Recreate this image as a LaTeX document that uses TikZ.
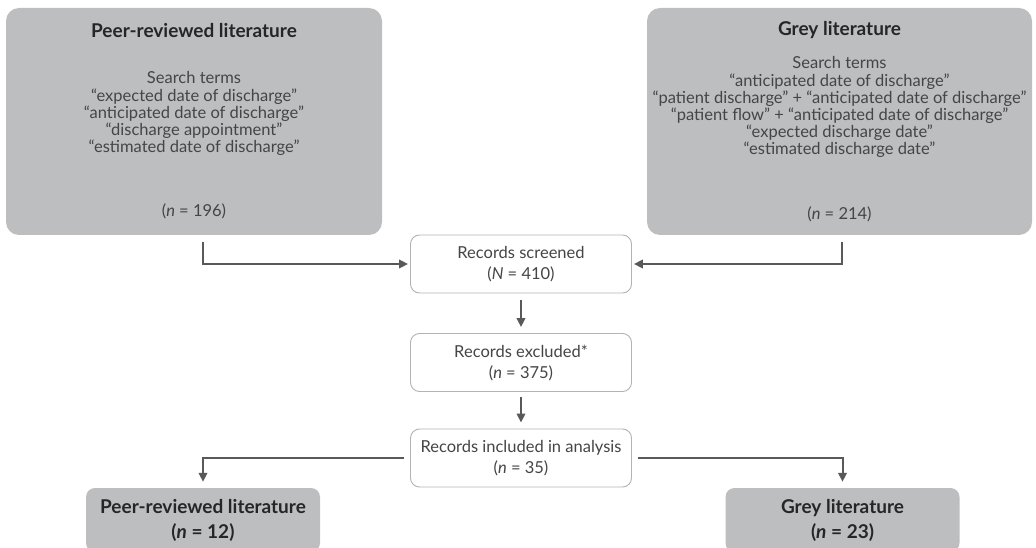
\documentclass[tikz,border=0pt]{standalone}
\usepackage{fontspec}
\setmainfont{Lato}
\usetikzlibrary{arrows.meta,positioning}
\definecolor{boxgrey}{HTML}{BDBEC0}
\definecolor{linegrey}{HTML}{58595B}
\definecolor{textgrey}{HTML}{454545}
\definecolor{edgegrey}{HTML}{B2B3B5}
\newcommand{\headline}[1]{{\bfseries\color{black!85}\fontsize{19}{17}\selectfont #1}}
\tikzset{
  source/.style={fill=boxgrey, rounded corners=13pt, align=center, text=textgrey,
    minimum height=227pt, inner sep=0pt, font=\fontsize{16.5}{17.2}\selectfont},
  stagebox/.style={draw=edgegrey, line width=0.9pt, fill=white, rounded corners=9pt,
    align=center, text=textgrey, minimum width=221pt, minimum height=58pt,
    inner sep=0pt, font=\fontsize{16.5}{21}\selectfont},
  result/.style={fill=boxgrey, rounded corners=9pt, align=center, text=black!85,
    minimum width=234pt, minimum height=64pt, inner sep=0pt,
    font=\bfseries\fontsize{19}{25}\selectfont},
  flow/.style={-{Triangle[length=9pt,width=8.5pt]}, line width=2pt, draw=linegrey},
}
\begin{document}
\begin{tikzpicture}[x=1pt, y=-1pt]
  \useasboundingbox (0,0) rectangle (1036,548);
  % Sources
  \node[source, minimum width=376pt] (peer) at (194,121.5)
    {\headline{Peer-reviewed literature}\\[29pt]
     Search terms\\
     ``expected date of discharge''\\
     ``anticipated date of discharge''\\
     ``discharge appointment''\\
     ``estimated date of discharge''\\[47pt]
     (\textit{n} = 196)};
  \node[source, minimum width=385pt] (grey) at (839.5,121.5)
    {\headline{Grey literature}\\[16pt]
     Search terms\\
     ``anticipated date of discharge''\\
     ``patient discharge'' + ``anticipated date of discharge''\\
     ``patient flow'' + ``anticipated date of discharge''\\
     ``expected discharge date''\\
     ``estimated discharge date''\\[47pt]
     (\textit{n} = 214)};
  % Screening stages
  \node[stagebox] (screened) at (521,264) {Records screened\\(\textit{N} = 410)};
  \node[stagebox] (excluded) at (521,362.5) {Records excluded*\\(\textit{n} = 375)};
  \node[stagebox] (included) at (521,458) {Records included in analysis\\(\textit{n} = 35)};
  % Results
  \node[result] (peerres) at (203,520) {Peer-reviewed literature\\(\textit{n} = 12)};
  \node[result] (greyres) at (842.5,520) {Grey literature\\(\textit{n} = 23)};
  % Connectors
  \coordinate (peerout) at (203,242);
  \coordinate (greyout) at (842,242);
  \draw[flow, shorten >=2pt] (peerout) |- (screened.west);
  \draw[flow, shorten >=2pt] (greyout) |- (screened.east);
  \draw[flow, shorten <=7pt, shorten >=6pt] (screened) -- (excluded);
  \draw[flow, shorten <=5pt, shorten >=6pt] (excluded) -- (included);
  \draw[flow, shorten <=6pt, shorten >=6pt] (included.west) -| (peerres.north);
  \draw[flow, shorten <=6pt, shorten >=6pt] (included.east) -| (greyres.north);
\end{tikzpicture}
\end{document}
